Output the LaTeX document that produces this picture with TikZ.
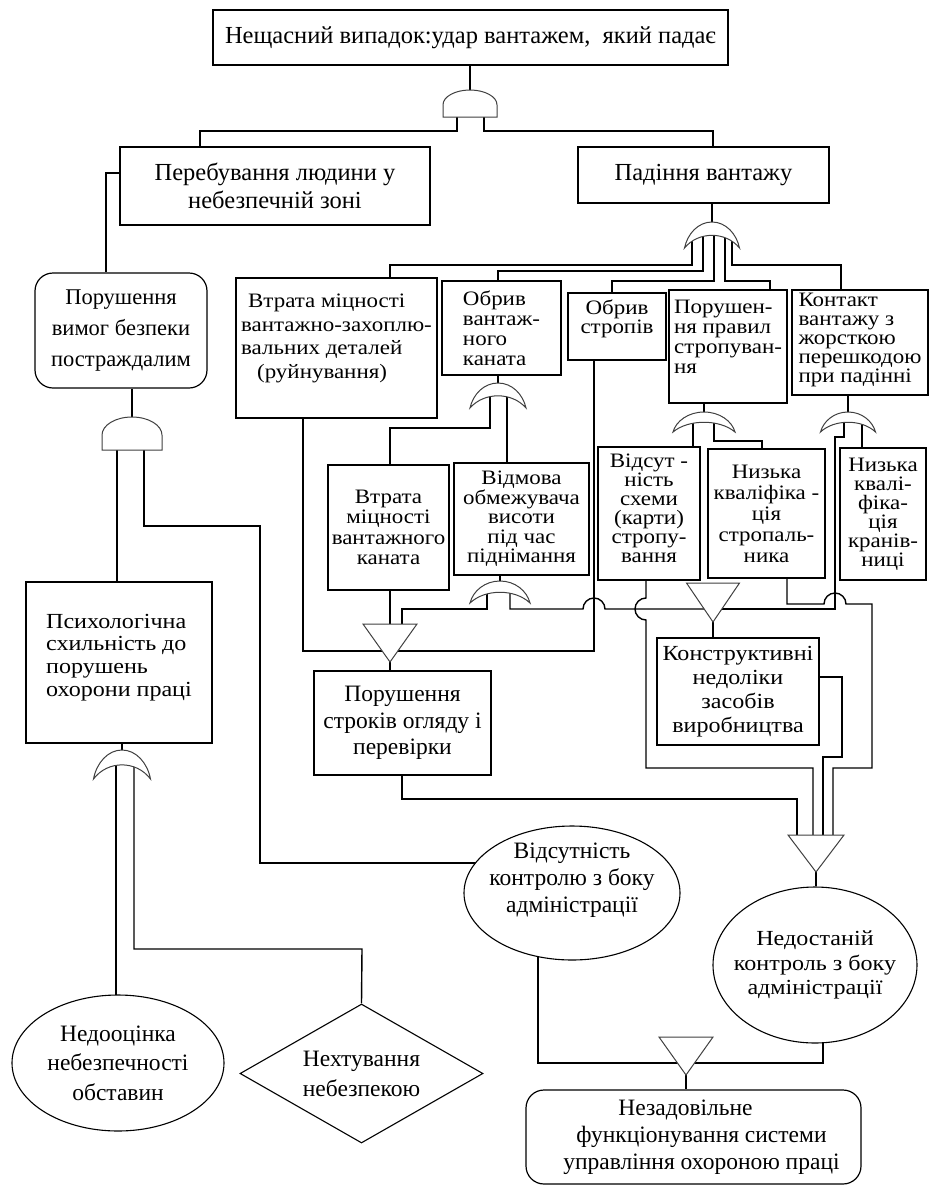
\documentclass[tikz,border=0pt]{standalone}
\usepackage{fontspec}
\setmainfont{Liberation Serif}
% slightly widened face for the tightly set boxes
\newfontfamily\widefont[FakeStretch=1.12]{Liberation Serif}
\usetikzlibrary{shapes.geometric}
\pgfdeclarelayer{wires}
\pgfsetlayers{wires,main}
\hyphenpenalty=10000
\exhyphenpenalty=10000

% AND gate: centre x, top y, bottom y, half width
\newcommand{\andgate}[4]{%
  \draw[gate] ({#1-#4},#3) -- ({#1-#4},{#3-0.45*(#3-#2)})
    arc[start angle=180,end angle=360,x radius=#4,y radius={0.55*(#3-#2)}]
    -- ({#1+#4},#3) -- cycle;}
% OR gate: centre x, top y, tip y, half width
\newcommand{\orgate}[4]{%
  \draw[gate] ({#1-#4},#3)
    .. controls ({#1-#4+3},{#2+0.45*(#3-#2)}) and ({#1-0.5*#4},#2) .. (#1,#2)
    .. controls ({#1+0.5*#4},#2) and ({#1+#4-3},{#2+0.45*(#3-#2)}) .. ({#1+#4},#3)
    .. controls ({#1+0.5*#4},{#2+0.35*(#3-#2)}) and ({#1-0.5*#4},{#2+0.35*(#3-#2)}) .. ({#1-#4},#3)
    -- cycle;}
% inverted triangle: centre x, top y, apex y, half width
\newcommand{\trigate}[4]{%
  \draw[gate] ({#1-#4},#2) -- ({#1+#4},#2) -- (#1,#3) -- cycle;}

\begin{document}
\begin{tikzpicture}[x=1pt,y=-1pt,
  box/.style={draw,line width=1.4pt,fill=white,inner sep=0pt,align=center},
  lbox/.style={box,align=left},
  rbox/.style={box,rounded corners=18pt,line width=1.2pt},
  oval/.style={draw,ellipse,line width=1.1pt,fill=white,inner sep=0pt},
  dia/.style={draw,diamond,line width=1.1pt,fill=white,inner sep=0pt},
  lab/.style={align=center,inner sep=0pt},
  wire/.style={line width=1.4pt},
  gate/.style={line width=1pt,draw=black!75,fill=white},
  fL/.style={font=\fontsize{24.5}{28}\selectfont},
  fM/.style={font=\widefont\fontsize{21.5}{24}\selectfont},
  fS/.style={font=\widefont\fontsize{20.5}{#1}\selectfont},
  fS/.default=20
]
\useasboundingbox (0,0) rectangle (930,1186);

% ---------- events ----------
\node[box,fL,minimum width=515pt,minimum height=55pt] (T) at (470.5,37.5) {Нещасний випадок:удар вантажем,\ \ який падає};
\node[box,fL,minimum width=310pt,minimum height=78pt] (P1) at (275,186) {Перебування людини у\\небезпечній зоні};
\node[box,fL,minimum width=251pt,minimum height=56pt] (P2) at (703.5,175) {Падіння вантажу};
\node[rbox,font=\fontsize{22.5}{31}\selectfont,minimum width=172pt,minimum height=115pt] (L1) at (121,330.5) {Порушення\\вимог безпеки\\постраждалим};

\node[lbox,fS=23.5,minimum width=201pt,minimum height=140pt] (A) at (336.5,348) {\hspace*{7pt}Втрата міцності\\вантажно-захоплю-\\вальних деталей\\\hspace*{16pt}(руйнування)\\\mbox{}};
\node[lbox,fS,minimum width=119pt,minimum height=94pt] (B) at (501.5,328) {Обрив\\вантаж-\\ного\\каната};
\node[box,fS=19,minimum width=98pt,minimum height=67pt] (C) at (617,326.5) {Обрив\\стропів\\\mbox{}};
\node[lbox,fS,minimum width=118pt,minimum height=113pt] (D) at (728,346.5) {Порушен-\\ня правил\\стропуван-\\ня\\\mbox{}};
\node[lbox,fS=19,minimum width=136pt,minimum height=105pt] (E) at (860,342.5) {Контакт\\вантажу з\\жорсткою\\перешкодою\\при падінні\\[-10pt]\mbox{}};

\node[box,fS=20.5,minimum width=121pt,minimum height=125pt] (F) at (388.5,527.5) {Втрата\\міцності\\вантажного\\каната};
\node[box,fS=19.5,minimum width=135pt,minimum height=112pt] (G) at (521.5,519) {Відмова\\обмежувача\\висоти\\під час\\піднімання};
\node[box,fS=19,minimum width=102pt,minimum height=133pt] (H) at (649,513.5) {Відсут -\\ність\\схеми\\(карти)\\стропу-\\вання\\[-8pt]\mbox{}};
\node[box,fS=21,minimum width=117pt,minimum height=129pt] (I) at (766.5,513.5) {Низька\\кваліфіка -\\ція\\стропаль-\\ника};
\node[box,fS=19,minimum width=86pt,minimum height=132pt] (J) at (883,514) {Низька\\квалі-\\фіка-\\ція\\кранів-\\ниці};

\node[box,font=\fontsize{23.5}{26.5}\selectfont,minimum width=177pt,minimum height=104pt] (K) at (402.5,723) {Порушення\\строків огляду і\\перевірки};
\node[box,fM,minimum width=162pt,minimum height=107pt] (M) at (738,691.5) {Конструктивні\\недоліки\\засобів\\виробництва};
\node[lbox,font=\widefont\fontsize{21.5}{22.7}\selectfont,minimum width=186pt,minimum height=161pt] (Psych) at (119,662.5) {Психологічна\\схильність до\\порушень\\охорони праці\\[-8pt]\mbox{}};

\node[oval,minimum width=216pt,minimum height=134pt,
  label={[lab,font=\fontsize{23.5}{27}\selectfont,yshift=13pt]center:{Відсутність\\контролю з боку\\адміністрації}}] (N) at (572,893) {};
\node[oval,minimum width=204pt,minimum height=156pt,
  label={[lab,font=\widefont\fontsize{21.5}{24.5}\selectfont]center:{Недостаній\\контроль з боку\\адміністрації}}] (Q) at (815,965) {};
\node[oval,minimum width=212pt,minimum height=136pt,
  label={[lab,font=\fontsize{23.5}{29.5}\selectfont]center:{Недооцінка\\небезпечності\\обставин}}] (R) at (118,1063) {};
\node[dia,minimum width=243pt,minimum height=139pt,
  label={[lab,font=\fontsize{23.5}{30}\selectfont]center:{Нехтування\\небезпекою}}] (S) at (361.5,1073.5) {};
\node[rbox,minimum width=335pt,minimum height=94pt,
  label={[lab,font=\fontsize{23.5}{27}\selectfont,xshift=8pt]center:{Незадовільне\hspace*{32pt}\\функціонування системи\\управління охороною праці}}] (U) at (693.5,1137) {};

% ---------- connectors ----------
\begin{pgfonlayer}{wires}
  \draw[wire] (T.south -| 470,0) -- (470,100);
  \draw[wire] (457,105) -- (457,131) -- (200,131) -- (P1.north -| 200,0);
  \draw[wire] (484,105) -- (484,131) -- (713,131) -- (P2.north -| 713,0);
  \draw[wire] (P1.west |- 0,173) -- (106,173) -- (L1.north -| 106,0);
  % inputs of the gate under "Падіння вантажу"
  \draw[wire] (P2.south -| 712,0) -- (712,232);
  \draw[wire] (692,234) -- (692,265) -- (390,265) -- (A.north -| 390,0);
  \draw[wire] (703,234) |- (498,271) -- (B.north -| 498,0);
  \draw[wire] (714,234) |- (612,281) -- (C.north -| 612,0);
  \draw[wire] (725,234) |- (770,281) -- (D.north -| 770,0);
  \draw[wire] (732,234) |- (841,265) -- (E.north -| 841,0);
  % under "Обрив вантажного каната"
  \draw[wire] (B.south -| 498,0) -- (498,393);
  \draw[wire] (490,396) |- (390,428) -- (F.north -| 390,0);
  \draw[wire] (507,396) -- (G.north -| 507,0);
  % under "Порушення правил стропування"
  \draw[wire] (D.south -| 704,0) -- (704,420);
  \draw[wire] (693,422) -- (H.north -| 693,0);
  \draw[wire] (714,422) |- (762,441) -- (I.north -| 762,0);
  % under "Контакт вантажу"
  \draw[wire] (E.south -| 848,0) -- (848,420);
  \draw[wire] (862,422) -- (J.north -| 862,0);
  \draw[wire] (844,422) |- (835,437) -- (835,609) -- (713,609);
  % under "Відмова обмежувача"
  \draw[wire] (G.south -| 500,0) -- (500,590);
  \draw[wire] (487,592) |- (402,609) -- (402,632);
  \draw[wire] (510,592) |- (583,609) arc[start angle=180,end angle=360,radius=11] -- (713,609);
  \draw[wire] (F.south -| 390,0) -- (390,632);
  \draw[wire] (A.south -| 303,0) -- (303,651) -- (594,651) -- (C.south -| 594,0);
  \draw[wire] (390,655) -- (K.north -| 390,0);
  \draw[wire] (713,615) -- (M.north -| 713,0);
  % into the gate above "Недостаній контроль"
  \draw[wire] (H.south -| 646,0) -- (646,598) arc[start angle=270,end angle=90,radius=11]
    -- (646,768) -- (813,768) -- (813,842);
  \draw[wire] (I.south -| 787,0) -- (787,604) -- (824,604) arc[start angle=180,end angle=360,radius=11]
    -- (872,604) -- (872,768) -- (833,768) -- (833,842);
  \draw[wire] (M.east |- 0,677) -- (842,677) -- (842,757) -- (823,757) -- (823,842);
  \draw[wire] (K.south -| 402,0) -- (402,799) -- (797,799) -- (797,842);
  \draw[wire] (816,860) -- (Q.north -| 816,0);
  % left branch
  \draw[wire] (L1.south -| 132,0) -- (132,430);
  \draw[wire] (117,438) -- (Psych.north -| 117,0);
  \draw[wire] (144,438) |- (260,526) -- (260,863) -- (500,863);
  \draw[wire] (Psych.south -| 122,0) -- (122,762);
  \draw[wire] (116,766) -- (116,1010);
  \draw[wire] (134,766) |- (362,949) -- (S.north);
  % bottom
  \draw[wire] (538,930) -- (538,1063) -- (823,1063) -- (823,1000);
  \draw[wire] (686,1068) -- (U.north -| 686,0);
\end{pgfonlayer}

% ---------- gates ----------
\andgate{470}{90}{117}{27}
\andgate{132}{417}{450}{30}
\orgate{712}{222}{248}{27.5}
\orgate{498}{383}{408}{28}
\orgate{704}{412}{432}{31}
\orgate{848}{412}{432}{27.5}
\orgate{500}{581}{603}{30}
\orgate{122}{750}{779}{28.5}
\trigate{390}{624}{662}{27}
\trigate{713}{583}{622}{26.5}
\trigate{816}{835}{872}{28}
\trigate{686}{1037}{1075}{27}
\end{tikzpicture}
\end{document}
